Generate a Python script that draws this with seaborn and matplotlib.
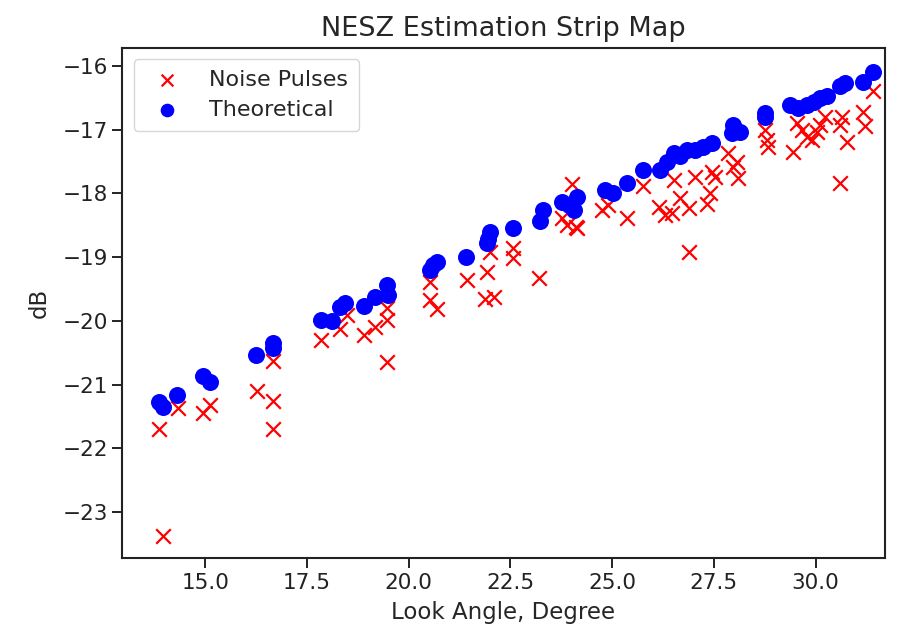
import matplotlib
matplotlib.use("Agg")
import matplotlib.pyplot as plt
import seaborn as sns
import pandas as pd

# Theoretical NESZ (blue dots)
theo_angle = [13.85, 13.96, 14.30, 14.93, 15.12, 16.25, 16.66, 16.66, 17.83, 18.11,
              18.32, 18.42, 18.89, 19.18, 19.46, 19.50, 20.53, 20.60, 20.69, 21.40,
              21.92, 21.96, 22.00, 22.57, 23.23, 23.31, 23.76, 23.93, 24.05, 24.13,
              24.83, 25.03, 25.36, 25.77, 26.18, 26.34, 26.51, 26.67, 26.84, 27.04,
              27.24, 27.45, 27.94, 27.98, 28.15, 28.76, 28.76, 29.37, 29.58, 29.78,
              29.95, 30.11, 30.28, 30.60, 30.72, 31.17, 31.42]
theo_db = [-21.28, -21.35, -21.16, -20.87, -20.96, -20.54, -20.35, -20.42, -19.99, -20.00,
           -19.78, -19.72, -19.77, -19.62, -19.44, -19.60, -19.20, -19.12, -19.07, -19.00,
           -18.78, -18.72, -18.60, -18.55, -18.44, -18.26, -18.13, -18.18, -18.26, -18.05,
           -17.95, -18.00, -17.84, -17.63, -17.63, -17.50, -17.37, -17.42, -17.32, -17.32,
           -17.27, -17.21, -17.06, -16.93, -17.03, -16.74, -16.80, -16.61, -16.66, -16.61,
           -16.56, -16.51, -16.48, -16.32, -16.27, -16.25, -16.09]

# Noise pulse estimates (red crosses)
noise_angle = [13.85, 13.96, 14.32, 14.93, 15.12, 16.28, 16.66, 16.66, 16.66, 17.83,
               18.32, 18.48, 18.89, 19.18, 19.46, 19.46, 19.46, 20.53, 20.53, 20.69,
               21.42, 21.92, 21.88, 22.09, 22.00, 22.57, 22.57, 23.21, 24.01, 23.76,
               23.88, 24.13, 24.10, 24.75, 24.91, 25.36, 25.77, 26.14, 26.30, 26.47,
               26.67, 26.88, 26.51, 27.04, 26.88, 27.33, 27.41, 27.45, 27.53, 27.85,
               28.06, 28.10, 27.96, 28.76, 28.80, 28.84, 29.45, 29.54, 29.66, 29.78,
               29.91, 30.03, 30.11, 30.23, 30.60, 30.64, 30.77, 30.60, 31.17, 31.22,
               31.42]
noise_db = [-21.69, -23.38, -21.37, -21.44, -21.32, -21.10, -20.63, -21.26, -21.69, -20.30,
            -20.12, -19.90, -20.22, -20.09, -19.99, -19.80, -20.65, -19.39, -19.68, -19.81,
            -19.36, -19.24, -19.65, -19.62, -18.92, -18.86, -19.02, -19.32, -17.86, -18.39,
            -18.50, -18.55, -18.52, -18.26, -18.18, -18.39, -17.89, -18.21, -18.34, -18.31,
            -18.08, -18.23, -17.79, -17.74, -18.92, -18.16, -18.00, -17.66, -17.74, -17.37,
            -17.50, -17.76, -17.58, -17.00, -17.16, -17.27, -17.35, -16.90, -17.00, -17.11,
            -17.16, -17.03, -16.93, -16.80, -16.93, -16.80, -17.19, -17.84, -16.72, -16.95,
            -16.40]

theo = pd.DataFrame({"angle": theo_angle, "db": theo_db})
noise = pd.DataFrame({"angle": noise_angle, "db": noise_db})

sns.set_style("ticks")
plt.rcParams["font.family"] = ["DejaVu Sans"]

fig = plt.figure(figsize=(9, 6.32), dpi=100)
ax = fig.add_axes([0.136, 0.117, 0.847, 0.807])

sns.scatterplot(data=noise, x="angle", y="db", ax=ax, marker="x", color="red",
                s=110, linewidth=1.6, label="Noise Pulses", zorder=2)
sns.scatterplot(data=theo, x="angle", y="db", ax=ax, marker="o", color="blue",
                s=150, edgecolor="blue", linewidth=0, label="Theoretical", zorder=3)

ax.set_xlim(12.96, 31.7)
ax.set_ylim(-23.72, -15.72)
ax.set_xticks([15.0, 17.5, 20.0, 22.5, 25.0, 27.5, 30.0])
ax.set_yticks([-16, -17, -18, -19, -20, -21, -22, -23])

ax.set_title("NESZ Estimation Strip Map", fontsize=19.5, pad=9)
ax.set_xlabel("Look Angle, Degree", fontsize=16.5, labelpad=6)
ax.set_ylabel("dB", fontsize=16.5, labelpad=8)
ax.tick_params(labelsize=15.5, length=7, width=1.4, colors="#222222")
for sp in ax.spines.values():
    sp.set_visible(True)
    sp.set_linewidth(1.5)
    sp.set_color("#222222")

ax.legend(loc="upper left", fontsize=16, frameon=True, borderpad=0.5,
          handletextpad=0.9, labelspacing=0.45, markerscale=0.8)

fig.savefig("out.png", dpi=100)
